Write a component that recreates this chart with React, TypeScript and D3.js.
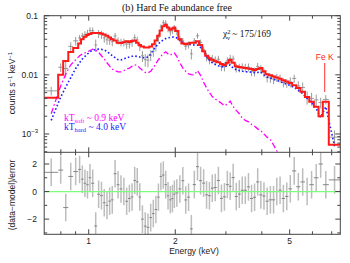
import React, { useEffect, useRef } from "react";
import * as d3 from "d3";

// spectral bins (keV), lower edges plus the final upper edge
const binEdges = [
  0.70, 0.783, 0.815, 0.849, 0.883, 0.919,
  0.94, 0.96, 0.98, 1.00, 1.02, 1.045, 1.07, 1.095, 1.12, 1.145, 1.17, 1.195, 1.22, 1.25,
  1.28, 1.31, 1.34, 1.37, 1.40, 1.43, 1.46, 1.49, 1.52, 1.555, 1.59, 1.625, 1.66, 1.695,
  1.73, 1.765, 1.80, 1.835, 1.87, 1.905, 1.94, 1.97, 2.00,
  2.05, 2.10, 2.15, 2.20, 2.25, 2.30, 2.36, 2.42, 2.48, 2.54, 2.60, 2.66, 2.72, 2.79, 2.86,
  2.93, 3.00, 3.07, 3.14, 3.22, 3.30, 3.38, 3.46, 3.55, 3.64, 3.73, 3.82, 3.92, 4.02, 4.12,
  4.23, 4.34, 4.45, 4.57, 4.69, 4.82, 4.95,
  5.10, 5.27, 5.45, 5.65, 5.85, 6.07, 6.30, 6.52, 6.84, 7.50,
];

// total model (counts s^-1 keV^-1)
const modelTotal = [
  0.0041, 0.0100, 0.0172, 0.0244, 0.0285,
  0.034, 0.040, 0.044, 0.047, 0.049, 0.051, 0.051, 0.051, 0.050, 0.048, 0.046, 0.043, 0.040, 0.038,
  0.035, 0.0345, 0.0355, 0.037, 0.036, 0.0375, 0.038, 0.035, 0.032, 0.030, 0.029, 0.029, 0.030,
  0.033, 0.038, 0.046, 0.056, 0.066, 0.070, 0.063, 0.058, 0.061, 0.063,
  0.055, 0.040, 0.034, 0.033, 0.034, 0.035, 0.035, 0.037, 0.032, 0.025, 0.021, 0.019, 0.018,
  0.017, 0.0163, 0.0152, 0.0147, 0.0160, 0.0178, 0.0160, 0.0140, 0.0136, 0.0133, 0.0131, 0.0128,
  0.0125, 0.0121, 0.0125, 0.0130, 0.0115, 0.0102, 0.0098, 0.0094, 0.0090, 0.0086, 0.0081, 0.0077,
  0.0073, 0.0067, 0.0060, 0.0052, 0.0042, 0.0035, 0.0029, 0.0020, 0.0035, 0.00066,
];

// hard component, kT ~ 4.0 keV
const modelHard = [
  0.0017, 0.0042, 0.0062, 0.0090, 0.0128,
  0.0160, 0.0185, 0.0205, 0.0225, 0.0245, 0.0260, 0.0268, 0.0272, 0.0270, 0.0262, 0.0250, 0.0228,
  0.0210, 0.0195, 0.0180, 0.0178, 0.0186, 0.0195, 0.0200, 0.0206, 0.0208, 0.0205, 0.0200, 0.0196,
  0.0193, 0.0200, 0.0225, 0.0264, 0.0300, 0.0335, 0.0365, 0.0390, 0.0410, 0.0422, 0.0430, 0.0434, 0.0436,
  0.0420, 0.0385, 0.0355, 0.0340, 0.0330, 0.0322, 0.0320, 0.0320, 0.0290, 0.0245, 0.0205, 0.0175,
  0.0160, 0.0150, 0.0142, 0.0137, 0.0136, 0.0142, 0.0147, 0.0130, 0.0122, 0.0118, 0.0115, 0.0113,
  0.0112, 0.0111, 0.0109, 0.0110, 0.0112, 0.0100, 0.0092, 0.0088, 0.0084, 0.0081, 0.0077, 0.0073, 0.0069,
  0.0066, 0.0061, 0.0055, 0.0048, 0.0040, 0.0034, 0.0027, 0.0019, 0.0029, 0.00062,
];

// soft component, kT ~ 0.9 keV
const modelSoft = [
  0.0022, 0.0065, 0.0103, 0.0148, 0.0180,
  0.0210, 0.0225, 0.0235, 0.0244, 0.0258, 0.0272, 0.0262, 0.0240, 0.0210, 0.0185, 0.0160, 0.0140,
  0.0125, 0.0118, 0.0112, 0.0112, 0.0118, 0.0125, 0.0130, 0.0140, 0.0147, 0.0145, 0.0130, 0.0120,
  0.0110, 0.0108, 0.0115, 0.0131, 0.0155, 0.0180, 0.0205, 0.0230, 0.0245, 0.0225, 0.0215, 0.0228, 0.0234,
  0.0205, 0.0160, 0.0130, 0.0115, 0.0104, 0.0101, 0.0100, 0.0118, 0.0098, 0.0075, 0.0060, 0.0050,
  0.0043, 0.0039, 0.0036, 0.0033, 0.0030, 0.0032, 0.0036, 0.0029, 0.0025, 0.0022, 0.00187, 0.0017,
  0.0016, 0.00145, 0.00135, 0.00122, 0.00113, 0.00100, 0.00088, 0.00080, 0.00065, 0.00052, 0.00042,
  0.00036, 0.00031,
  0.00027, 0.00023, 0.00020, 0.00017, 0.00015, 0.00013, 0.00011, 0.00010, 0.00010, 0.00010,
];

// observed rate per bin
const counts = [
  0.00536, 0.01343, 0.01281, 0.0303, 0.0376,
  0.0422, 0.0454, 0.0480, 0.0505, 0.0564, 0.0556, 0.0319, 0.0495, 0.0478, 0.0422, 0.0391, 0.0385,
  0.0364, 0.0454, 0.0376, 0.0355, 0.0355, 0.0331, 0.0333, 0.0353, 0.0426, 0.0387, 0.0301, 0.0210,
  0.0181, 0.0177, 0.0215, 0.0251, 0.0306, 0.0432, 0.0640, 0.0763, 0.0746, 0.0605, 0.0535, 0.0570, 0.0614,
  0.0543, 0.0410, 0.0375, 0.0304, 0.0322, 0.0227, 0.0373, 0.0457, 0.0353, 0.0270, 0.0202, 0.0181,
  0.0187, 0.0178, 0.0184, 0.0140, 0.0138, 0.0173, 0.0189, 0.0186, 0.0132, 0.0132, 0.0135, 0.0133,
  0.0135, 0.0115, 0.0113, 0.0139, 0.0125, 0.0109, 0.00906, 0.00886, 0.00850, 0.0090, 0.00874,
  0.00745, 0.00727,
  0.00759, 0.00871, 0.00646, 0.00611, 0.0042, 0.00399, 0.00377, 0.0034, 0.00385, 0.000884,
];

// 1-sigma error as a fraction of the model rate
const relErr = [
  0.22, 0.22, 0.22, 0.22, 0.22,
  0.15, 0.15, 0.15, 0.15, 0.15, 0.15, 0.15, 0.15, 0.15, 0.15, 0.15, 0.15, 0.15, 0.15, 0.15,
  0.15, 0.15, 0.15, 0.15, 0.15, 0.15, 0.15, 0.15, 0.15, 0.15, 0.15, 0.15, 0.15, 0.15, 0.15,
  0.13, 0.13, 0.13, 0.13, 0.13, 0.13, 0.13,
  0.13, 0.13, 0.13, 0.13, 0.13, 0.13, 0.13, 0.13, 0.13, 0.13,
  0.16, 0.16, 0.16, 0.16, 0.16, 0.16, 0.16, 0.16, 0.16, 0.16, 0.16, 0.16, 0.16, 0.16, 0.16,
  0.16, 0.16, 0.16, 0.16, 0.16, 0.16, 0.16, 0.16, 0.16, 0.16, 0.16, 0.16,
  0.2, 0.2, 0.22, 0.25, 0.25, 0.28, 0.3, 0.35, 0.2, 0.4,
];

const xMajor = [1, 2, 5];
const xMinor = [0.8, 0.9, 3, 4, 6, 7];
const resTicks = [-3, -2, -1, 0, 1, 2];
const resLabels = [-2, 0, 2];

const left = 44.2, right = 340.3, top = 15.7, mid = 152.3, bottom = 234.3;
const sans = "'Liberation Sans', Arial, sans-serif";
const serif = "'Liberation Serif', 'Times New Roman', serif";

const App = () => {
  const svgRef = useRef<SVGSVGElement>(null);

  useEffect(() => {
    const svg = d3.select(svgRef.current);
    svg.selectAll("*").remove();

    const x = d3.scaleLog().domain([0.7, 7.5]).range([left, right]);
    const y = d3.scaleLog().domain([4.9e-4, 0.1]).range([mid, top]);
    const yr = d3.scaleLinear().domain([-3.1, 2.85]).range([bottom, mid]);

    const bins = counts.map((c, i) => {
      const lo = binEdges[i], hi = binEdges[i + 1];
      const m = modelTotal[i];
      const err = relErr[i] * m;
      return { lo, hi, e: Math.sqrt(lo * hi), c, m, err, res: (c - m) / err };
    });

    const defs = svg.append("defs");
    defs.append("clipPath").attr("id", "clipTop")
      .append("rect").attr("x", left).attr("y", top).attr("width", right - left).attr("height", mid - top);
    defs.append("clipPath").attr("id", "clipBot")
      .append("rect").attr("x", left).attr("y", mid).attr("width", right - left).attr("height", bottom - mid);

    // ---- top panel
    const gTop = svg.append("g").attr("clip-path", "url(#clipTop)");
    const cross = gTop.append("g").attr("stroke", "#8e8e8e").attr("stroke-width", 0.9);
    cross.selectAll("line.h").data(bins).join("line").attr("class", "h")
      .attr("x1", d => x(d.lo)).attr("x2", d => x(d.hi))
      .attr("y1", d => y(d.c)).attr("y2", d => y(d.c));
    cross.selectAll("line.v").data(bins).join("line").attr("class", "v")
      .attr("x1", d => x(d.e)).attr("x2", d => x(d.e))
      .attr("y1", d => y(Math.max(d.c - d.err, 1e-5))).attr("y2", d => y(d.c + d.err));

    const comp = d3.line<number>()
      .x((_, i) => x(bins[i].e))
      .y(v => y(v));
    gTop.append("path").attr("d", comp(modelSoft))
      .attr("fill", "none").attr("stroke", "#ff00ff").attr("stroke-width", 1.3)
      .attr("stroke-dasharray", "6,2.5,1.5,2.5");
    gTop.append("path").attr("d", comp(modelHard))
      .attr("fill", "none").attr("stroke", "#1c1cff").attr("stroke-width", 1.6)
      .attr("stroke-dasharray", "1.6,2.2");

    const stepPts: [number, number][] = bins.map(d => [x(d.lo), y(d.m)]);
    stepPts.push([x(binEdges[binEdges.length - 1]), y(modelTotal[modelTotal.length - 1])]);
    gTop.append("path").attr("d", d3.line().curve(d3.curveStepAfter)(stepPts))
      .attr("fill", "none").attr("stroke", "#ff1a1a").attr("stroke-width", 2);

    // ---- residual panel
    const gBot = svg.append("g").attr("clip-path", "url(#clipBot)");
    gBot.selectAll("line.v").data(bins).join("line").attr("class", "v")
      .attr("x1", d => x(d.e)).attr("x2", d => x(d.e))
      .attr("y1", d => yr(d.res - 1)).attr("y2", d => yr(d.res + 1))
      .attr("stroke", "#bdbdbd").attr("stroke-width", 1.5);
    gBot.selectAll("line.h").data(bins).join("line").attr("class", "h")
      .attr("x1", d => x(d.lo)).attr("x2", d => x(d.hi))
      .attr("y1", d => yr(d.res)).attr("y2", d => yr(d.res))
      .attr("stroke", "#7a7a7a").attr("stroke-width", 0.9);
    gBot.append("line").attr("x1", left).attr("x2", right)
      .attr("y1", yr(0)).attr("y2", yr(0))
      .attr("stroke", "#7dff7d").attr("stroke-width", 1.4);

    // ---- frames and ticks
    const ax = svg.append("g").attr("stroke", "#444").attr("stroke-width", 1).attr("fill", "none");
    ax.append("rect").attr("x", left).attr("y", top).attr("width", right - left).attr("height", bottom - top);
    ax.append("line").attr("x1", left).attr("x2", right).attr("y1", mid).attr("y2", mid);

    const xTick = (v: number, len: number) => {
      const px = x(v);
      [[top, len], [mid, -len], [mid, len], [bottom, -len]].forEach(([y0, l]) => {
        ax.append("line").attr("x1", px).attr("x2", px).attr("y1", y0).attr("y2", y0 + l);
      });
    };
    xMajor.forEach(v => xTick(v, 5));
    xMinor.forEach(v => xTick(v, 3));

    const yTick = (py: number, len: number) => {
      ax.append("line").attr("x1", left).attr("x2", left + len).attr("y1", py).attr("y2", py);
      ax.append("line").attr("x1", right).attr("x2", right - len).attr("y1", py).attr("y2", py);
    };
    [-4, -3, -2].forEach(p => {
      for (let k = 1; k < 10; k++) {
        const v = k * Math.pow(10, p);
        if (v < 4.9e-4 || v > 0.1) continue;
        yTick(y(v), k === 1 ? 5 : 3);
      }
    });
    yTick(y(0.1), 5);
    resTicks.forEach(v => yTick(yr(v), v % 2 === 0 ? 5 : 3));

    // ---- labels
    const txt = svg.append("g").attr("font-family", sans).attr("font-size", 8.5).attr("fill", "#222");
    xMajor.forEach(v => {
      txt.append("text").attr("x", x(v)).attr("y", bottom + 10).attr("text-anchor", "middle").text(v);
    });
    txt.append("text").attr("x", 38).attr("y", y(0.1) + 3).attr("text-anchor", "end").text("0.1");
    txt.append("text").attr("x", 38).attr("y", y(0.01) + 3).attr("text-anchor", "end").text("0.01");
    const t3 = txt.append("text").attr("x", 38).attr("y", y(0.001) + 3).attr("text-anchor", "end");
    t3.append("tspan").text("10");
    t3.append("tspan").attr("dy", -3.5).attr("font-size", 6).text("−3");
    resLabels.forEach(v => {
      txt.append("text").attr("x", 37).attr("y", yr(v) + 3).attr("text-anchor", "end")
        .text(v < 0 ? `−${-v}` : `${v}`);
    });
    txt.append("text").attr("x", 194).attr("y", 254).attr("text-anchor", "middle").text("Energy (keV)");

    const yl = txt.append("text").attr("transform", `translate(15,${83}) rotate(-90)`).attr("text-anchor", "middle");
    yl.append("tspan").text("counts s");
    yl.append("tspan").attr("dy", -3).attr("font-size", 6).text("−1");
    yl.append("tspan").attr("dy", 3).text(" keV");
    yl.append("tspan").attr("dy", -3).attr("font-size", 6).text("−1");
    txt.append("text").attr("transform", `translate(15,${195}) rotate(-90)`).attr("text-anchor", "middle")
      .text("(data−model)/error");

    txt.append("text").attr("x", x(6.62)).attr("y", 60).attr("text-anchor", "middle")
      .attr("fill", "#ff1a1a").text("Fe K");
    svg.append("line").attr("x1", x(6.62)).attr("x2", x(6.62)).attr("y1", 63).attr("y2", 92)
      .attr("stroke", "#ff1a1a").attr("stroke-width", 0.9);

    const st = svg.append("g").attr("font-family", serif).attr("font-size", 10).attr("fill", "#111");
    st.append("text").attr("x", 177).attr("y", 11).attr("text-anchor", "middle").text("(b) Hard Fe abundance free");
    const chi = st.append("text").attr("x", 223).attr("y", 37).attr("font-size", 9.5);
    chi.append("tspan").text("χ");
    chi.append("tspan").attr("dy", -3.5).attr("font-size", 6.5).text("2");
    chi.append("tspan").attr("dx", -3.5).attr("dy", 6).attr("font-size", 6.5).text("ν");
    chi.append("tspan").attr("dy", -2.5).text(" ~ 175/169");

    const kt = (ty: number, sub: string, val: string, col: string) => {
      const t = st.append("text").attr("x", 64).attr("y", ty).attr("font-size", 9.5).attr("fill", col);
      t.append("tspan").text("kT");
      t.append("tspan").attr("dy", 2).attr("font-size", 6.5).text(sub);
      t.append("tspan").attr("dy", -2).text(` ~ ${val} keV`);
    };
    kt(121, "soft", "0.9", "#ff00ff");
    kt(130, "hard", "4.0", "#1c1cff");
  }, []);

  return (
    <svg ref={svgRef} width={350} height={263}
      style={{ position: "absolute", left: 0, top: 0, background: "#fff" }} />
  );
};

export default App;
